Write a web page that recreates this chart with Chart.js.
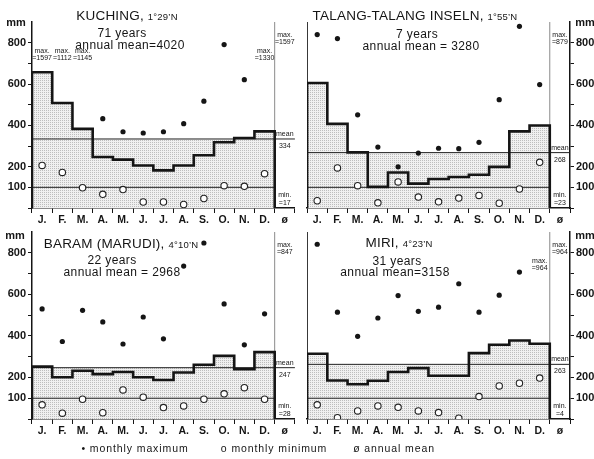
<!DOCTYPE html>
<html>
<head>
<meta charset="utf-8">
<script src="https://cdn.jsdelivr.net/npm/chart.js@4.4.0/dist/chart.umd.min.js"></script>
<style>
  html, body { margin: 0; padding: 0; background: #fff; }
  #fig { position: relative; width: 594px; height: 459px; overflow: hidden;
         font-family: "Liberation Sans", Arial, sans-serif; color: #151515; }
  canvas { position: absolute; }
  .txt { position: absolute; white-space: nowrap; transform: translate(-50%, -50%); }
  .ttl { font-size: 13.5px; letter-spacing: 0.2px; }
  .ttl small { font-size: 9.5px; }
  .sub { font-size: 12px; letter-spacing: 0.4px; }
  .mm { font-size: 11px; font-weight: bold; }
  .leg { font-size: 10.5px; letter-spacing: 0.9px; }
</style>
</head>
<body>
<div id="fig">
  <canvas id="c0" width="300" height="228" style="left:0;top:0"></canvas>
  <canvas id="c1" width="292" height="228" style="left:302px;top:0"></canvas>
  <canvas id="c2" width="300" height="229" style="left:0;top:210px"></canvas>
  <canvas id="c3" width="292" height="229" style="left:302px;top:210px"></canvas>
</div>
<script>
// month columns plus the annual-mean column
const months = ['J.', 'F.', 'M.', 'A.', 'M.', 'J.', 'J.', 'A.', 'S.', 'O.', 'N.', 'D.', 'ø'];
const yTicks = [0, 100, 200, 300, 400, 500, 600, 700, 800];
const yLabels = [100, 200, 400, 600, 800];

const stations = ['KUCHING,', 'TALANG-TALANG INSELN,', 'BARAM (MARUDI),', 'MIRI,'];
const latitudes = ['1°29’N', '1°55’N', '4°10’N', '4°23’N'];
const years = [71, 7, 22, 31];
const annualTotals = [4020, 3280, 2968, 3158];
const meanLevels = [334, 268, 247, 263];

// monthly mean rainfall (mm)
const kuchingRain = [657, 508, 383, 247, 234, 206, 182, 206, 255, 318, 339, 371];
const talangRain  = [605, 407, 269, 102, 172, 118, 140, 150, 161, 199, 371, 399];
const baramRain   = [252, 201, 232, 216, 226, 201, 188, 224, 261, 304, 240, 322];
const miriRain    = [314, 185, 167, 184, 226, 245, 208, 208, 317, 357, 378, 362];

// monthly maximum
const kuchingMax = [1597, 1112, 1145, 432, 369, 363, 369, 408, 517, 791, 621, 1330];
const talangMax  = [839, 820, 451, 295, 199, 266, 289, 287, 318, 524, 879, 597];
const baramMax   = [530, 373, 523, 467, 361, 491, 386, 736, 847, 554, 357, 506];
const miriMax    = [841, 514, 398, 486, 594, 518, 538, 651, 514, 596, 707, 964];

// monthly minimum
const kuchingMin = [206, 172, 98, 66, 89, 29, 29, 17, 46, 108, 105, 166];
const talangMin  = [35, 194, 108, 25, 126, 53, 30, 48, 61, 23, 92, 221];
const baramMin   = [68, 28, 95, 30, 140, 105, 55, 63, 95, 121, 151, 95];
const miriMin    = [68, 6, 39, 63, 56, 39, 31, 4, 108, 159, 172, 197];

const FONT = '"Liberation Sans", Arial, sans-serif';
const INK = '#151515';

// stippled fill
const tile = document.createElement('canvas');
tile.width = 2; tile.height = 2;
const tc = tile.getContext('2d');
tc.fillStyle = '#f0f0f0'; tc.fillRect(0, 0, 2, 2);
tc.fillStyle = '#bdbdbd'; tc.fillRect(0, 0, 1, 1);
const dots = tc.createPattern(tile, 'repeat');

// small labels: off-scale maxima, and the values in the ø column
const annot = {
  id: 'annot',
  afterDatasetsDraw(chart, args, o) {
    const ctx = chart.ctx, a = chart.chartArea;
    const x = chart.scales.x, y = chart.scales.y;
    ctx.save();
    ctx.fillStyle = INK;
    ctx.font = '7px ' + FONT;
    ctx.textAlign = 'center';
    o.max.forEach((v, i) => {
      if (v > y.max) {
        const cx = x.getPixelForValue(i + 0.5);
        ctx.fillText('max.', cx, a.top + 31);
        ctx.fillText('=' + v, cx, a.top + 38);
      }
    });
    const cz = x.getPixelForValue(12.5);
    ctx.fillText('max.', cz, a.top + 15);
    ctx.fillText('=' + Math.max(...o.max), cz, a.top + 22);
    const my = y.getPixelForValue(o.level);
    ctx.fillText('mean', cz, my - 3);
    ctx.fillText(String(o.level), cz, my + 9);
    ctx.fillText('min.', cz, a.bottom - 11);
    ctx.fillText('=' + Math.min(...o.min), cz, a.bottom - 3);
    ctx.restore();
  }
};

function panel(id, rain, max, min, level, right) {
  const step = [{x: 0, y: 0}].concat(rain.map((v, i) => ({x: i, y: v})),
    [{x: 12, y: rain[11]}, {x: 12, y: 0}]);
  const line = (data, color, width, extra) => Object.assign({
    data: data, borderColor: color, borderWidth: width, pointRadius: 0,
    fill: false, xAxisID: 'x', yAxisID: 'y'
  }, extra || {});

  const datasets = [
    line(max.map((v, i) => ({x: i + 0.5, y: v})), INK, 0, {
      showLine: false, pointRadius: 2.6, pointBackgroundColor: INK, pointBorderWidth: 0, order: 0 }),
    line(min.map((v, i) => ({x: i + 0.5, y: v})), INK, 0, {
      showLine: false, pointRadius: 3.2, pointBackgroundColor: '#fff',
      pointBorderColor: '#222', pointBorderWidth: 1.1, order: 0 }),
    line(step, INK, 2.6, {stepped: 'before', fill: 'origin', backgroundColor: dots, order: 1}),
    line([{x: 0, y: level}, {x: 13, y: level}], '#222', 1, {order: 2}),
    line([{x: 0, y: 100}, {x: 12, y: 100}], '#222', 1, {order: 2}),
    line([{x: 12, y: 0}, {x: 12, y: 900}], '#8a8a8a', 1, {order: 3}),
    line([{x: 0, y: level}, {x: 12, y: level}], 'rgba(0,0,0,0)', 1,
      {fill: 'origin', backgroundColor: dots, order: 5})
  ];
  if (right) datasets.push(line([{x: 0, y: 0}, {x: 0, y: 900}], INK, 1.5, {order: 3}));

  new Chart(document.getElementById(id), {
    type: 'line',
    data: {datasets: datasets},
    options: {
      responsive: false,
      animation: false,
      devicePixelRatio: 1,
      layout: {padding: {top: 22, left: 0, right: 0, bottom: 0}},
      plugins: {
        legend: {display: false},
        tooltip: {enabled: false},
        filler: {drawTime: 'beforeDatasetsDraw'},
        annot: {max: max, min: min, level: level}
      },
      scales: {
        x: {type: 'linear', min: 0, max: 13, display: false},
        xc: {
          type: 'category', labels: months, position: 'bottom', offset: true,
          grid: {offset: true, drawOnChartArea: false, tickLength: 5, color: INK},
          border: {color: INK, width: 1.5},
          ticks: {color: INK, font: {family: FONT, size: 10.5, weight: 'bold'},
                  padding: 1, autoSkip: false, maxRotation: 0},
          afterFit: s => { s.height = 20; }
        },
        y: {
          type: 'linear', position: right ? 'right' : 'left', min: 0, max: 900,
          afterBuildTicks: s => { s.ticks = yTicks.map(v => ({value: v})); },
          afterFit: s => { s.width = right ? 24 : 32; },
          ticks: {
            callback: v => yLabels.includes(v) ? String(v) : '',
            color: INK, font: {family: FONT, size: 11, weight: 'bold'}, padding: 2
          },
          grid: {drawOnChartArea: false, tickLength: 4, color: INK},
          border: {color: INK, width: 1.5}
        }
      }
    },
    plugins: [annot]
  });
}

panel('c0', kuchingRain, kuchingMax, kuchingMin, meanLevels[0], false);
panel('c1', talangRain, talangMax, talangMin, meanLevels[1], true);
panel('c2', baramRain, baramMax, baramMin, meanLevels[2], false);
panel('c3', miriRain, miriMax, miriMin, meanLevels[3], true);

// titles and notes
const fig = document.getElementById('fig');
function put(html, cls, cx, cy) {
  const d = document.createElement('div');
  d.className = 'txt ' + cls;
  d.style.left = cx + 'px';
  d.style.top = cy + 'px';
  d.innerHTML = html;
  fig.appendChild(d);
}
const spots = [
  {t: [127, 15], y: [122, 33], a: [130, 45], eq: '='},
  {t: [415, 15], y: [417, 34], a: [421, 46], eq: ' = '},
  {t: [121, 243], y: [112, 260], a: [122, 272], eq: ' = '},
  {t: [399, 242], y: [397, 261], a: [395, 272], eq: '='}
];
spots.forEach((s, i) => {
  put(stations[i] + ' <small>' + latitudes[i] + '</small>', 'ttl', s.t[0], s.t[1]);
  put(years[i] + ' years', 'sub', s.y[0], s.y[1]);
  put('annual mean' + s.eq + annualTotals[i], 'sub', s.a[0], s.a[1]);
});
put('mm', 'mm', 16, 22);
put('mm', 'mm', 15, 235);
put('mm', 'mm', 585, 22);
put('mm', 'mm', 585, 235);
put('• monthly maximum', 'leg', 135, 448);
put('o monthly minimum', 'leg', 274, 448);
put('ø annual mean', 'leg', 394, 448);
</script>
</body>
</html>
